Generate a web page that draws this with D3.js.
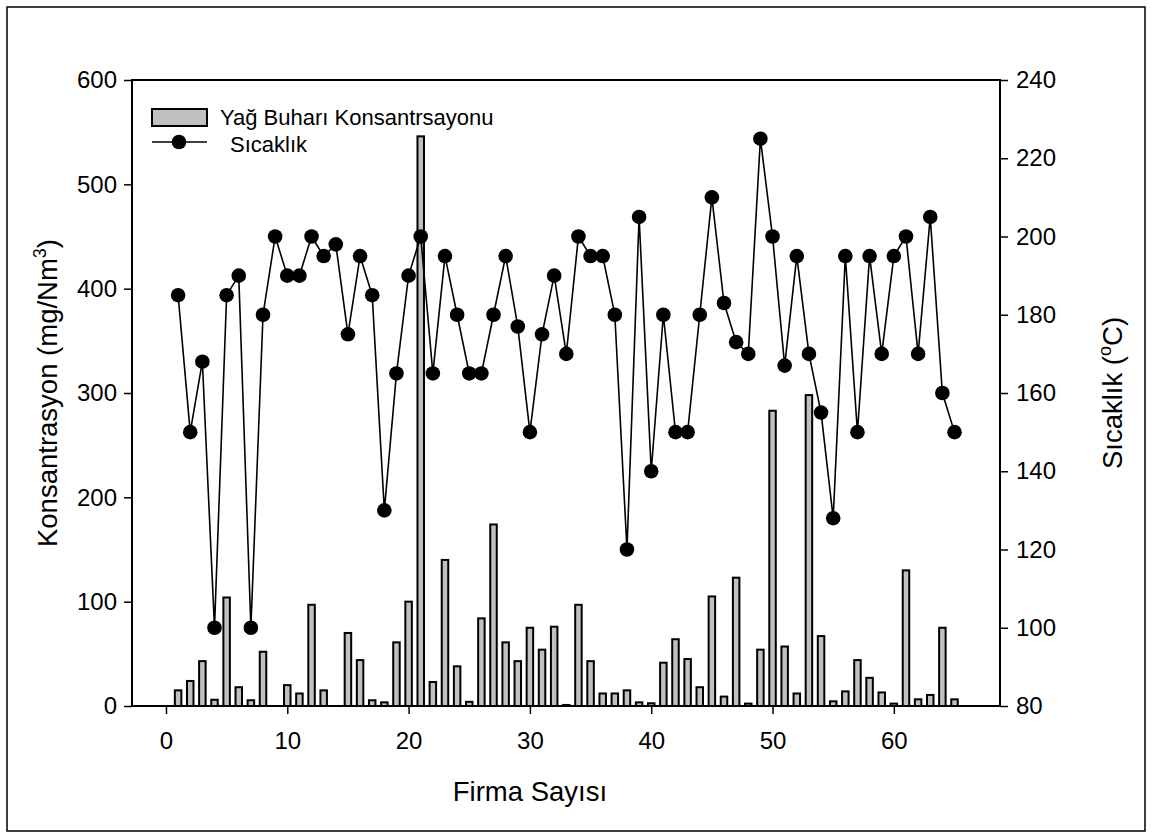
<!DOCTYPE html>
<html>
<head>
<meta charset="utf-8">
<script src="https://cdn.jsdelivr.net/npm/d3@7"></script>
<style>
  body { margin: 0; background: #fff; }
  text { font-family: "Liberation Sans", Arial, sans-serif; }
</style>
</head>
<body>
<div id="chart"></div>
<script>
// firm numbers (x categories)
const firma = [
  1, 2, 3, 4, 5, 6, 7, 8, 9, 10, 11, 12, 13, 14, 15, 16, 17, 18, 19, 20,
  21, 22, 23, 24, 25, 26, 27, 28, 29, 30, 31, 32, 33, 34, 35, 36, 37, 38, 39, 40,
  41, 42, 43, 44, 45, 46, 47, 48, 49, 50, 51, 52, 53, 54, 55, 56, 57, 58, 59, 60,
  61, 62, 63, 64, 65
];

// oil vapour concentration, mg/Nm3 (null = no bar)
const konsantrasyon = [
  15, 24, 43, 6, 104, 18, 5.5, 52, null, 20, 12, 97, 15, null, 70, 44, 5.5, 3.5, 61, 100,
  546, 23, 140, 38, 4, 84, 174, 61, 43, 75, 54, 76, 1, 97, 43, 12, 12, 15, 3.5, 2.6,
  41.5, 64, 45, 18, 105, 9, 123, 2.3, 54, 283, 57, 12, 298, 67, 4.5, 14, 44, 27, 13, 2.3,
  130, 6.4, 10.6, 75, 6.4
];

// temperature, °C
const sicaklik = [
  185, 150, 168, 100, 185, 190, 100, 180, 200, 190, 190, 200, 195, 198, 175, 195, 185, 130, 165, 190,
  200, 165, 195, 180, 165, 165, 180, 195, 177, 150, 175, 190, 170, 200, 195, 195, 180, 120, 205, 140,
  180, 150, 150, 180, 210, 183, 173, 170, 225, 200, 167, 195, 170, 155, 128, 195, 150, 195, 170, 195,
  200, 170, 205, 160, 150
];

const xTicks = [0, 10, 20, 30, 40, 50, 60];
const leftTicks = [0, 100, 200, 300, 400, 500, 600];
const rightTicks = [80, 100, 120, 140, 160, 180, 200, 220, 240];

// page and plot box
const W = 1152, H = 838;
const plot = { left: 132, right: 1000, top: 80, bottom: 706 };
const barW = 6.5;

const svg = d3.select('#chart')
  .append('svg')
  .attr('width', W)
  .attr('height', H);

// outer frame
svg.append('rect')
  .attr('x', 7).attr('y', 7)
  .attr('width', 1138).attr('height', 824)
  .attr('fill', 'none')
  .attr('stroke', '#000')
  .attr('stroke-width', 1.5);

// scales
const x = d3.scaleLinear().domain([-2.8, 68.75]).range([plot.left, plot.right]);
const yL = d3.scaleLinear().domain([0, 600]).range([plot.bottom, plot.top]);
const yR = d3.scaleLinear().domain([80, 240]).range([plot.bottom, plot.top]);

const data = firma.map((f, i) => ({ f, c: konsantrasyon[i], t: sicaklik[i] }));

// bars
svg.append('g')
  .selectAll('rect')
  .data(data.filter(d => d.c != null))
  .join('rect')
  .attr('x', d => x(d.f) - barW / 2)
  .attr('y', d => yL(d.c))
  .attr('width', barW)
  .attr('height', d => yL(0) - yL(d.c))
  .attr('fill', '#c0c0c0')
  .attr('stroke', '#000')
  .attr('stroke-width', 2);

// temperature line + markers
const line = d3.line().x(d => x(d.f)).y(d => yR(d.t));
svg.append('path')
  .datum(data)
  .attr('d', line)
  .attr('fill', 'none')
  .attr('stroke', '#000')
  .attr('stroke-width', 1.6);

svg.append('g')
  .selectAll('circle')
  .data(data)
  .join('circle')
  .attr('cx', d => x(d.f))
  .attr('cy', d => yR(d.t))
  .attr('r', 7.3)
  .attr('fill', '#000');

// plot box
svg.append('rect')
  .attr('x', plot.left).attr('y', plot.top)
  .attr('width', plot.right - plot.left)
  .attr('height', plot.bottom - plot.top)
  .attr('fill', 'none')
  .attr('stroke', '#000')
  .attr('stroke-width', 2);

// axes
function styleAxis(g) {
  g.select('.domain').remove();
  g.selectAll('.tick line').attr('stroke', '#000').attr('stroke-width', 1.5);
  g.selectAll('.tick text').attr('fill', '#000').attr('font-size', 24)
    .style('font-family', '"Liberation Sans", Arial, sans-serif');
}

svg.append('g')
  .attr('transform', `translate(0,${plot.bottom})`)
  .call(d3.axisBottom(x).tickValues(xTicks).tickSize(8).tickPadding(18).tickFormat(d3.format('d')))
  .call(styleAxis);

svg.append('g')
  .attr('transform', `translate(${plot.left},0)`)
  .call(d3.axisLeft(yL).tickValues(leftTicks).tickSize(8).tickPadding(7).tickFormat(d3.format('d')))
  .call(styleAxis);

svg.append('g')
  .attr('transform', `translate(${plot.right},0)`)
  .call(d3.axisRight(yR).tickValues(rightTicks).tickSize(8).tickPadding(8).tickFormat(d3.format('d')))
  .call(styleAxis);

// axis titles
svg.append('text')
  .attr('x', x(30)).attr('y', 801)
  .attr('text-anchor', 'middle')
  .attr('font-size', 27.5)
  .text('Firma Sayısı');

const lt = svg.append('text')
  .attr('transform', `translate(57,${(plot.top + plot.bottom) / 2}) rotate(-90)`)
  .attr('text-anchor', 'middle')
  .attr('font-size', 27.5);
lt.append('tspan').text('Konsantrasyon (mg/Nm');
lt.append('tspan').attr('font-size', 18).attr('dy', -11).text('3');
lt.append('tspan').attr('dy', 11).text(')');

const rt = svg.append('text')
  .attr('transform', `translate(1122,${(plot.top + plot.bottom) / 2}) rotate(-90)`)
  .attr('text-anchor', 'middle')
  .attr('font-size', 27.5);
rt.append('tspan').text('Sıcaklık (');
rt.append('tspan').attr('font-size', 18).attr('dy', -11).text('o');
rt.append('tspan').attr('dy', 11).text('C)');

// legend
const legend = svg.append('g');
legend.append('rect')
  .attr('x', 152).attr('y', 109)
  .attr('width', 55).attr('height', 17)
  .attr('fill', '#c0c0c0')
  .attr('stroke', '#000')
  .attr('stroke-width', 2);
legend.append('text')
  .attr('x', 220).attr('y', 125)
  .attr('font-size', 22)
  .text('Yağ Buharı Konsantrsayonu');
legend.append('line')
  .attr('x1', 152).attr('x2', 207)
  .attr('y1', 142).attr('y2', 142)
  .attr('stroke', '#000')
  .attr('stroke-width', 1.6);
legend.append('circle')
  .attr('cx', 179).attr('cy', 142)
  .attr('r', 7.3)
  .attr('fill', '#000');
legend.append('text')
  .attr('x', 230).attr('y', 152)
  .attr('font-size', 22)
  .text('Sıcaklık');
</script>
</body>
</html>
